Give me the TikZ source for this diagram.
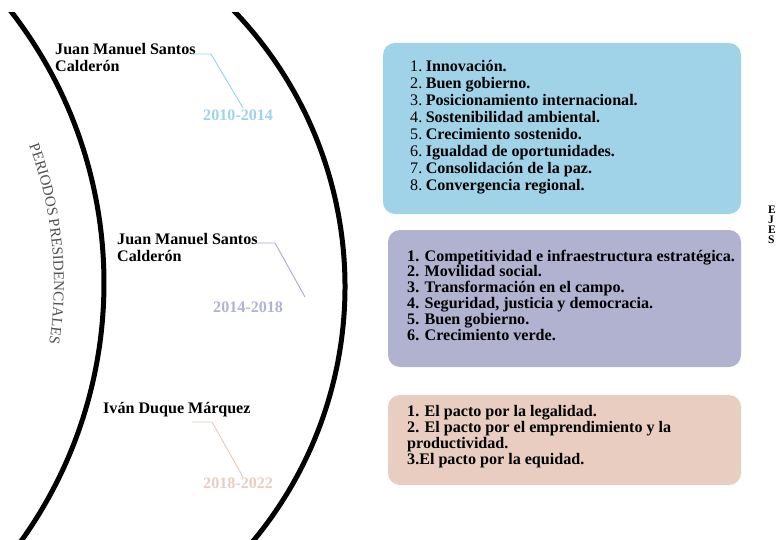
\documentclass[tikz,border=0pt]{standalone}
\usepackage{fontspec}
\usepackage{array}
\setmainfont{Liberation Serif}
\usetikzlibrary{decorations.text}
\definecolor{boxblue}{RGB}{160,211,231}
\definecolor{boxlav}{RGB}{177,177,208}
\definecolor{boxpeach}{RGB}{232,205,192}
\definecolor{lineblue}{RGB}{150,210,230}
\definecolor{linelav}{RGB}{168,168,208}
\definecolor{linepeach}{RGB}{230,200,186}
\definecolor{yearblue}{RGB}{158,212,234}
\definecolor{yearlav}{RGB}{178,178,214}
\definecolor{yearpeach}{RGB}{232,205,192}
\definecolor{titlegray}{RGB}{80,80,80}
\newcommand\mytitlefont{\fontsize{15}{15}\selectfont}
\begin{document}
\begin{tikzpicture}[x=1pt,y=1pt,
  panel/.style={rounded corners=12pt, inner sep=0pt, draw=none},
  txt/.style={anchor=base west, inner sep=0pt, align=left},
  boldtext/.style={txt, font=\bfseries\fontsize{16.1}{17}\selectfont},
  link/.style={line width=0.9pt},
  arcline/.style={line width=5pt, black}]
\useasboundingbox (0,0) rectangle (778,539);

% arcs
\begin{scope}
  \clip (0,0) rectangle (778,526);
  \draw[arcline] (-339,256) ++(-42:443) arc[start angle=-42, end angle=42, radius=443];
  \draw[arcline] (-53,252.3) ++(-46:398) arc[start angle=-46, end angle=48, radius=398];
\end{scope}

% vertical title along arc
\path[decorate, decoration={text along path, text align=center, text color=titlegray,
  text={|\mytitlefont|PERIODOS PRESIDENCIALES}}]
  (1.35,452.5) arc[start angle=30, end angle=-18.4, radius=393];

% boxes
\node[panel, fill=boxblue, minimum width=358pt, minimum height=171pt] (b1) at (562,410.5) {};
\node[panel, fill=boxlav, minimum width=353pt, minimum height=137pt] (b2) at (564.5,240.5) {};
\node[panel, fill=boxpeach, minimum width=353pt, minimum height=90pt] (b3) at (564.5,99) {};

% box texts
\node[boldtext] (l1) at (410,467) {\begin{tabular}[t]{@{}>{\mdseries}r@{\hspace{3.5pt}}l@{}}
1. & Innovación.\\
2. & Buen gobierno.\\
3. & Posicionamiento internacional.\\
4. & Sostenibilidad ambiental.\\
5. & Crecimiento sostenido.\\
6. & Igualdad de oportunidades.\\
7. & Consolidación de la paz.\\
8. & Convergencia regional.
\end{tabular}};

\node[txt, font=\bfseries\fontsize{16.1}{15.8}\selectfont] (l2) at (407,278) {\begin{tabular}[t]{@{}l@{}}
1. Competitividad e infraestructura estratégica.\\
2. Movilidad social.\\
3. Transformación en el campo.\\
4. Seguridad, justicia y democracia.\\
5. Buen gobierno.\\
6. Crecimiento verde.
\end{tabular}};

\node[txt, font=\bfseries\fontsize{16.1}{16.2}\selectfont] (l3) at (407,123) {\begin{tabular}[t]{@{}l@{}}
1. El pacto por la legalidad.\\
2. El pacto por el emprendimiento y la\\
productividad.\\
3.El pacto por la equidad.
\end{tabular}};

% names
\node[boldtext] (n1) at (55,484) {\begin{tabular}[t]{@{}l@{}}Juan Manuel Santos\\Calderón\end{tabular}};
\node[boldtext] (n2) at (117,295) {\begin{tabular}[t]{@{}l@{}}Juan Manuel Santos\\Calderón\end{tabular}};
\node[boldtext] (n3) at (103,126) {Iván Duque Márquez};

% years
\node[boldtext, text=yearblue] (y1) at (203,418) {2010-2014};
\node[boldtext, text=yearlav] (y2) at (213,227) {2014-2018};
\node[boldtext, text=yearpeach] (y3) at (203,51) {2018-2022};

% connectors
\coordinate (s1) at (192,485);
\coordinate (k1) at (211,485);
\coordinate (e1) at (243,431);
\draw[link, lineblue] (s1) -- (k1) -- (e1);
\coordinate (s2) at (255,296);
\coordinate (k2) at (275,296);
\coordinate (e2) at (305,242);
\draw[link, linelav] (s2) -- (k2) -- (e2);
\coordinate (s3) at (192,117);
\coordinate (k3) at (212,117);
\coordinate (e3) at (243,62);
\draw[link, linepeach] (s3) -- (k3) -- (e3);

% side label
\node[txt, font=\bfseries\fontsize{11.5}{9}\selectfont] (ejes) at (768,326) {\begin{tabular}[t]{@{}l@{}}E\\J\\E\\S\end{tabular}};
\end{tikzpicture}
\end{document}
